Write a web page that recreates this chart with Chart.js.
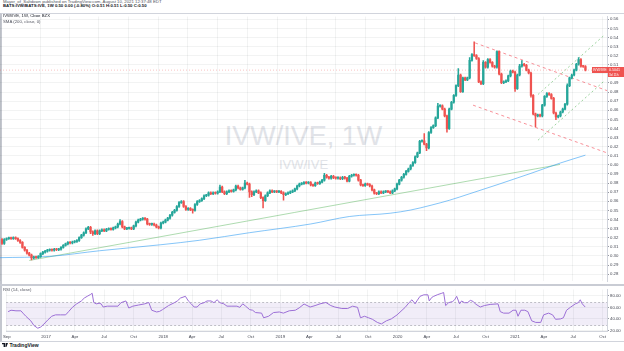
<!DOCTYPE html>
<html>
<head>
<meta charset="utf-8">
<title>IVW/IVE, 1W</title>
<script src="https://cdn.jsdelivr.net/npm/chart.js@4.4.1/dist/chart.umd.min.js"></script>
<style>
  html, body { margin: 0; padding: 0; background: #fff; }
  body { width: 624px; height: 351px; position: relative; overflow: hidden;
         font-family: "Liberation Sans", Arial, sans-serif; color: #131722; }
  .txt { position: absolute; white-space: nowrap; line-height: 1; }
  #frame { position: absolute; left: 0; top: 13px; width: 624px; height: 329px;
           border-top: 1px solid #d1d4dc; border-bottom: 1px solid #d1d4dc;
           border-left: 2px solid #c4c7cf; box-sizing: border-box; }
  #paneSep { position: absolute; left: 0; top: 284px; width: 624px; height: 2px; background: #c9ccd4; }
  .wm { position: absolute; left: 0; width: 607px; text-align: center; color: #e1e3e8; line-height: 1; }
  canvas { position: absolute; left: 0; }
  #price { top: 13px; }
  #rsi { top: 286px; }
  .over { z-index: 5; }
</style>
</head>
<body>
<div class="txt" style="left:3px;top:0px;font-size:4.3px;color:#50535e;">Mayor_of_Saltdown published on TradingView.com, August 10, 2021 12:37:48 EDT</div>
<div class="txt" style="left:3px;top:3.8px;font-size:4.3px;font-weight:bold;">BATS:IVW/BATS:IVE, 1W 0.50 0.00 (-0.80%) O:0.51 H:0.51 L:0.50 C:0.50</div>
<div id="frame"></div>
<div class="wm" style="top:123px;font-size:27px;">IVW/IVE, 1W</div>
<div class="wm" style="top:158px;font-size:13px;">IVW/IVE</div>
<canvas id="price" width="624" height="272"></canvas>
<canvas id="rsi" width="624" height="55"></canvas>
<div id="paneSep"></div>
<div class="txt over" style="left:3px;top:14.3px;font-size:4.3px;">IVW/IVE, 1W, Cboe BZX</div>
<div class="txt over" style="left:3px;top:19.8px;font-size:4.3px;color:#50535e;">SMA (200, close, 0)</div>
<div class="txt over" style="left:3px;top:288.3px;font-size:4.3px;color:#50535e;">RSI (14, close)</div>
<div class="txt over" style="left:2px;top:343px;font-size:5px;font-weight:bold;">
  <svg width="6" height="4" style="vertical-align:-0.3px"><path d="M0 0h3v4H1.6V1.2H0z M3.6 0h2.4L4.4 4H3.4z" fill="#131722"/></svg> TradingView
</div>

<script>
/* --- data (weekly bars from 2016-09-05) --- */
const firstDate = Date.UTC(2016, 8, 5);
const firstOpen = 0.3180;
const closes = [
  0.3137, 0.3180, 0.3190, 0.3196, 0.3190, 0.3201, 0.3190, 0.3169, 0.3148, 0.3094,
  0.3062, 0.3030, 0.3009, 0.2977, 0.2987, 0.2982, 0.2993, 0.3025, 0.3041, 0.3052,
  0.3062, 0.3068, 0.3062, 0.3073, 0.3068, 0.3073, 0.3094, 0.3116, 0.3132, 0.3148,
  0.3142, 0.3153, 0.3158, 0.3169, 0.3201, 0.3228, 0.3255, 0.3298, 0.3314, 0.3265,
  0.3244, 0.3276, 0.3244, 0.3276, 0.3287, 0.3276, 0.3292, 0.3298, 0.3292, 0.3308,
  0.3319, 0.3351, 0.3378, 0.3319, 0.3298, 0.3303, 0.3308, 0.3298, 0.3330, 0.3372,
  0.3394, 0.3404, 0.3410, 0.3404, 0.3351, 0.3346, 0.3351, 0.3340, 0.3319, 0.3308,
  0.3362, 0.3372, 0.3394, 0.3415, 0.3447, 0.3479, 0.3501, 0.3543, 0.3586, 0.3597,
  0.3543, 0.3511, 0.3522, 0.3506, 0.3501, 0.3565, 0.3597, 0.3608, 0.3629, 0.3661,
  0.3666, 0.3693, 0.3683, 0.3693, 0.3688, 0.3704, 0.3757, 0.3704, 0.3683, 0.3704,
  0.3715, 0.3709, 0.3725, 0.3768, 0.3747, 0.3731, 0.3747, 0.3800, 0.3789, 0.3704,
  0.3672, 0.3704, 0.3715, 0.3693, 0.3640, 0.3608, 0.3661, 0.3693, 0.3715, 0.3704,
  0.3709, 0.3704, 0.3709, 0.3693, 0.3672, 0.3683, 0.3693, 0.3704, 0.3715, 0.3736,
  0.3768, 0.3789, 0.3795, 0.3806, 0.3800, 0.3806, 0.3779, 0.3773, 0.3800, 0.3795,
  0.3811, 0.3832, 0.3886, 0.3864, 0.3854, 0.3875, 0.3859, 0.3854, 0.3859, 0.3848,
  0.3864, 0.3854, 0.3822, 0.3875, 0.3886, 0.3891, 0.3886, 0.3832, 0.3779, 0.3773,
  0.3789, 0.3784, 0.3768, 0.3725, 0.3688, 0.3683, 0.3704, 0.3693, 0.3704, 0.3709,
  0.3704, 0.3693, 0.3715, 0.3736, 0.3789, 0.3832, 0.3864, 0.3896, 0.3929, 0.3955,
  0.3993, 0.4025, 0.4089, 0.4132, 0.4260, 0.4265, 0.4228, 0.4185, 0.4356, 0.4410,
  0.4431, 0.4517, 0.4645, 0.4650, 0.4613, 0.4538, 0.4399, 0.4613, 0.4688, 0.4763,
  0.4870, 0.4987, 0.4805, 0.4955, 0.4934, 0.4955, 0.5148, 0.5212, 0.5201, 0.5169,
  0.4912, 0.4891, 0.5126, 0.5073, 0.5158, 0.5126, 0.5084, 0.5073, 0.5244, 0.4998,
  0.4902, 0.4912, 0.4923, 0.4977, 0.5030, 0.5019, 0.4838, 0.4987, 0.5084, 0.5105,
  0.5094, 0.5041, 0.5009, 0.4763, 0.4560, 0.4538, 0.4549, 0.4538, 0.4656, 0.4752,
  0.4784, 0.4773, 0.4731, 0.4570, 0.4527, 0.4538, 0.4581, 0.4613, 0.4666, 0.4870,
  0.4955, 0.4987, 0.5041, 0.5105, 0.5158, 0.5084, 0.5081, 0.5041
];
// wick lengths above / below the body, in thousandths
const wickUp = [
  1,1,1,1,1,1,1,1,1,1,1,1,1,1,1,1,1,1,1,1,
  1,1,1,1,1,1,1,1,1,1,1,1,1,1,1,1,1,1,1,1,
  1,1,1,1,1,1,1,1,1,1,1,1,2,1,1,1,1,1,1,1,
  1,1,1,1,1,1,1,1,1,1,1,1,1,1,1,1,1,1,1,1,
  1,1,1,1,1,1,1,1,1,1,1,1,1,1,1,1,2,1,1,1,
  1,1,1,1,1,1,1,3,1,1,1,1,1,1,1,1,1,1,1,1,
  1,1,1,1,1,1,1,1,1,1,1,1,1,1,1,1,1,1,1,1,
  1,1,2,1,1,1,1,1,1,1,1,1,1,1,1,1,1,1,1,1,
  1,1,1,1,1,1,1,1,1,1,1,1,1,1,1,1,1,1,1,1,
  1,1,1,1,1,1,8,1,1,1,1,1,3,1,1,1,1,1,1,1,
  1,7,1,1,1,1,3,1,14,1,1,1,2,1,1,1,1,1,1,1,
  1,1,1,1,1,1,1,1,2,4,1,1,1,1,1,1,1,1,1,1,
  1,1,1,1,1,1,1,1,1,2,1,1,1,1,2,1,1,1
];
const wickDown = [
  1,1,1,1,1,1,1,1,1,1,1,1,1,2,1,1,1,1,1,1,
  1,1,1,1,1,1,1,1,1,1,1,1,1,1,1,1,1,1,1,2,
  2,1,1,1,1,1,1,1,1,1,1,1,1,1,1,1,1,1,1,1,
  1,1,1,1,1,1,1,1,1,1,1,1,1,1,1,1,1,1,1,1,
  1,1,1,1,3,1,1,1,1,1,1,1,1,1,1,1,1,1,1,1,
  1,1,1,1,1,1,1,1,1,6,2,1,1,1,1,8,1,1,1,1,
  1,1,1,1,6,1,1,1,1,1,1,1,1,1,1,1,1,1,1,1,
  1,1,1,1,1,1,1,1,1,1,1,1,1,1,1,1,1,1,1,1,
  1,1,1,1,1,1,1,1,1,1,1,1,1,1,1,1,1,1,1,1,
  1,1,1,1,1,1,1,3,1,1,1,1,1,1,1,1,4,1,1,1,
  1,1,1,1,1,1,1,1,1,1,1,1,1,1,1,1,1,1,1,1,
  1,1,1,1,1,1,3,1,1,1,1,1,1,2,1,12,1,1,1,1,
  1,1,1,1,3,1,1,1,1,1,1,1,1,1,1,1,1,1
];

// SMA 200 (blue), read at a few weeks
const smaWeeks  = [-1, 21, 43, 70, 87, 109, 136, 153, 171, 180, 189, 197, 206, 219, 233, 246, 257];
const smaValues = [0.2981, 0.2995, 0.3057, 0.3123, 0.3172, 0.3255, 0.3351, 0.3433, 0.3469, 0.3504,
                   0.3557, 0.3611, 0.3683, 0.3789, 0.3907, 0.4021, 0.4107];

// drawn lines: [week, price] end points
const trendLine      = [[12, 0.2950], [245.8, 0.4005]];
const redChannelTop  = [[208.4, 0.5340], [266.5, 0.4816]];
const redChannelLow  = [[207.5, 0.4656], [266.5, 0.4132]];
const greenChanTop   = [[236.1, 0.4773], [265.6, 0.5432]];
const greenChanLow   = [[236.1, 0.4271], [265.6, 0.4929]];

// RSI (14, close)
const rsiWeeks = [0,1.3,3.5,5.7,6.6,7.9,10.1,11.5,13.2,14.5,15.9,17.6,19.4,21.1,23.3,25.6,26.9,28.6,30.4,32.6,
  33.9,35.2,36.6,37.4,38.1,39.2,40.5,41.4,42.3,44.1,46.7,48.9,50.2,52.4,53.7,55.5,58.1,60.8,62.6,63.9,
  66.1,67.4,68.7,71.4,74,75.3,76.7,78.9,80.2,81.5,82.8,84.1,85.5,87.2,88.5,90.3,91.6,93,94.3,96,
  97.4,99.6,101.8,103.1,104.4,105.7,107.5,108.8,110.1,112.8,113.7,115.9,118.1,120.7,122.5,125.1,127.8,129.5,131.7,134.4,
  136.6,138.8,141.4,143.6,145.4,148.5,151.1,153.3,155.5,156.8,158.6,160.4,162.1,164.3,166.1,168.3,170.5,173.1,175.3,176.7,
  178.4,179.7,181.1,181.9,183.3,185,186.8,187.4,188.5,189.4,191.2,193,193.8,194.7,196,197.8,198.7,199.6,200.9,201.8,
  203.1,204.4,205.7,207,207.9,210.1,211.9,214.5,218,219,220.5,222.9,224.7,226,226.9,228.2,229.9,231.3,233,234.8,
  237,238.3,240.5,242.3,243.6,245.8,247.1,248.5,250.2,252.4,253.7,254.6,255.5,256.8];
const rsiValues = [52.5,55,54,54,50,44.6,36.7,28.7,24,26,31,38,44.6,47,47,47,52.5,60,65.7,71,
  76,79,82,84.3,68.4,66,67,66,60.5,62,62,62,68,71,58.8,62,64,66,68.4,55,
  52,53,56,63,68,71,76,79,71,66,60.5,60.5,66,68,71,71,68,73,68,66,
  62,62,62,60,66,62,56,55,51,50,42,44.6,51,52,50,54,55,59,65.7,60.5,
  63,66,68.4,63,60.5,58,58,62,60,42,44.6,42,39.4,34,31.4,36.7,40,47,55,60,
  68,73,66,71,79,81.6,81.6,71,77,79,82,84.3,85.6,63,68,70,73,79,66,71,
  68,68,72,70,66,60.5,63,65,66,52.6,50,50,55,55,44.6,55,55,52.6,36.7,34,
  34,47,50,47,39.4,40,42,55,60,66,68,73,66,60.5];
const rsiUpper = 70, rsiLower = 30;

// axis ticks
const priceTicks = [0.28,0.29,0.30,0.31,0.32,0.33,0.34,0.35,0.36,0.37,0.38,0.39,0.40,0.41,0.42,
                    0.43,0.44,0.45,0.46,0.47,0.48,0.49,0.50,0.51,0.52,0.53,0.54,0.55,0.56];
const rsiTicks = [20, 40, 60, 80];
const axisDates = ['2016-09-01','2017-01-01','2017-04-01','2017-07-01','2017-10-01','2018-01-01','2018-04-01',
  '2018-07-01','2018-10-01','2019-01-01','2019-04-01','2019-07-01','2019-10-01','2020-01-01','2020-04-01',
  '2020-07-01','2020-10-01','2021-01-01','2021-04-01','2021-07-01','2021-10-01'];
const axisLabels = ['Sep','2017','Apr','Jul','Oct','2018','Apr','Jul','Oct','2019','Apr','Jul','Oct',
  '2020','Apr','Jul','Oct','2021','Apr','Jul','Oct'];

const symbolName = 'IVW/IVE';
const barCountdown = '3d 11h';

/* --- look --- */
const UP = '#26a69a', DOWN = '#ef5350';
const GRID = 'rgba(42,46,57,0.06)';
const TEXT = '#434651';
const FONT = '"Liberation Sans", Arial, sans-serif';
const X_MIN = -0.88, X_MAX = 266.5;
const P_MIN = 0.2720, P_MAX = 0.5629;
const R_MIN = 19.2, R_MAX = 90.6;

/* --- derived candle parts --- */
const opens = closes.map((c, i) => i === 0 ? firstOpen : closes[i - 1]);
const highs = closes.map((c, i) => Math.max(opens[i], c) + wickUp[i] / 1000);
const lows  = closes.map((c, i) => Math.min(opens[i], c) - wickDown[i] / 1000);
const candleColors = closes.map((c, i) => c >= opens[i] ? UP : DOWN);
const lastClose = closes[closes.length - 1];
const tickWeeks = axisDates.map(d => (Date.parse(d) - firstDate) / (7 * 86400000));
const pts = arr => arr.map(p => ({ x: p[0], y: p[1] }));

function xScale(showLabels) {
  return {
    type: 'linear', min: X_MIN, max: X_MAX, offset: false,
    afterBuildTicks: s => { s.ticks = tickWeeks.map(v => ({ value: v })); },
    afterFit: s => { s.height = showLabels ? 10 : 0; },
    grid: { color: GRID, drawTicks: false, offset: false },
    border: { display: showLabels, color: '#d1d4dc' },
    ticks: {
      display: showLabels, autoSkip: false, maxRotation: 0, padding: 3,
      font: { size: 4.3, family: FONT }, color: TEXT,
      callback: (v, i) => axisLabels[i]
    }
  };
}

function yScale(min, max, ticks, digits) {
  return {
    position: 'right', min: min, max: max,
    afterBuildTicks: s => { s.ticks = ticks.map(v => ({ value: v })); },
    afterFit: s => { s.width = 17; },
    grid: { color: GRID, tickColor: '#9598a1', tickLength: 2 },
    border: { display: true, color: '#d1d4dc' },
    ticks: { padding: 1, font: { size: 4.3, family: FONT }, color: TEXT,
             callback: v => v.toFixed(digits) }
  };
}

const lineStyle = (color, dash, order) => ({
  type: 'line', borderColor: color, borderWidth: 1, borderDash: dash,
  pointRadius: 0, fill: false, order: order
});

/* --- tag with the last price on the axis --- */
const lastPriceTag = {
  id: 'lastPriceTag',
  afterDraw(chart) {
    const { ctx, chartArea: a, scales: { y } } = chart;
    const py = Math.round(y.getPixelForValue(lastClose));
    ctx.save();
    ctx.fillStyle = DOWN;
    ctx.fillRect(a.right - 15, py - 3, 15, 6);
    ctx.fillRect(a.right, py - 3, chart.width - a.right, 6);
    ctx.fillRect(a.right + 1, py + 3, chart.width - a.right - 1, 4);
    ctx.fillStyle = '#fff';
    ctx.font = '3.6px ' + FONT;
    ctx.textBaseline = 'middle';
    ctx.fillText(symbolName, a.right - 14, py + 0.3);
    ctx.fillText(lastClose.toFixed(4), a.right + 2, py + 0.3);
    ctx.font = '3.2px ' + FONT;
    ctx.fillText(barCountdown, a.right + 2, py + 5);
    ctx.restore();
  }
};

new Chart(document.getElementById('price'), {
  type: 'bar',
  data: {
    datasets: [
      Object.assign(lineStyle('rgba(33,150,243,0.55)', [], 5), {
        data: smaWeeks.map((w, k) => ({ x: w, y: smaValues[k] })), cubicInterpolationMode: 'monotone'
      }),
      Object.assign(lineStyle('rgba(76,175,80,0.45)', [], 5), { data: pts(trendLine) }),
      Object.assign(lineStyle('rgba(239,83,80,0.35)', [1, 2], 6),
        { data: [{ x: X_MIN, y: lastClose }, { x: X_MAX, y: lastClose }] }),
      Object.assign(lineStyle('rgba(242,54,69,0.55)', [3, 3], 4), { data: pts(redChannelTop) }),
      Object.assign(lineStyle('rgba(242,54,69,0.55)', [3, 3], 4), { data: pts(redChannelLow) }),
      Object.assign(lineStyle('rgba(76,175,80,0.55)', [2, 2.5], 4), { data: pts(greenChanTop) }),
      Object.assign(lineStyle('rgba(76,175,80,0.55)', [2, 2.5], 4), { data: pts(greenChanLow) }),
      {
        label: 'wick',
        data: closes.map((c, i) => ({ x: i, y: [lows[i], highs[i]] })),
        backgroundColor: candleColors, barThickness: 0.9, grouped: false, order: 2
      },
      {
        label: 'body',
        data: closes.map((c, i) => ({ x: i, y: [opens[i], c] })),
        backgroundColor: candleColors, barThickness: 1.6, minBarLength: 1, grouped: false, order: 1
      }
    ]
  },
  options: {
    animation: false, responsive: false, events: [],
    layout: { padding: 0, autoPadding: false },
    plugins: { legend: { display: false }, tooltip: { enabled: false } },
    scales: { x: xScale(false), y: yScale(P_MIN, P_MAX, priceTicks, 2) }
  },
  plugins: [lastPriceTag]
});

/* --- RSI pane: band between 30 and 70 --- */
const rsiBand = {
  id: 'rsiBand',
  beforeDatasetsDraw(chart) {
    const { ctx, chartArea: a, scales: { y } } = chart;
    const top = Math.round(y.getPixelForValue(rsiUpper)) + 0.5;
    const bot = Math.round(y.getPixelForValue(rsiLower)) + 0.5;
    ctx.save();
    ctx.fillStyle = 'rgba(126,87,194,0.11)';
    ctx.fillRect(a.left, top, a.right - a.left, bot - top);
    ctx.strokeStyle = 'rgba(120,123,134,0.45)';
    ctx.lineWidth = 1;
    ctx.setLineDash([2, 2]);
    [top, bot].forEach(p => {
      ctx.beginPath(); ctx.moveTo(a.left, p); ctx.lineTo(a.right, p); ctx.stroke();
    });
    ctx.restore();
  }
};

new Chart(document.getElementById('rsi'), {
  type: 'line',
  data: {
    datasets: [{
      data: rsiWeeks.map((w, k) => ({ x: w, y: rsiValues[k] })),
      borderColor: '#9c6fd6', borderWidth: 1, pointRadius: 0, tension: 0
    }]
  },
  options: {
    animation: false, responsive: false, events: [],
    layout: { padding: 0, autoPadding: false },
    plugins: { legend: { display: false }, tooltip: { enabled: false } },
    scales: { x: xScale(true), y: yScale(R_MIN, R_MAX, rsiTicks, 2) }
  },
  plugins: [rsiBand]
});
</script>
</body>
</html>
